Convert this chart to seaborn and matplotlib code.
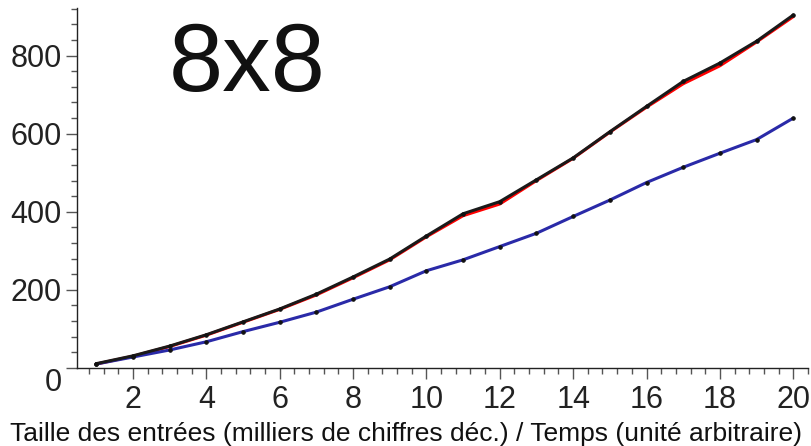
import matplotlib
matplotlib.use("Agg")
import matplotlib.pyplot as plt
from matplotlib.ticker import MultipleLocator
import pandas as pd
import seaborn as sns

# --------------------------
# Données
# --------------------------
taille = list(range(1, 21))
temps_rouge = [10, 30, 55, 84, 117, 150, 187, 231, 277, 336, 390, 420, 480, 537, 604, 668, 728, 774, 835, 900]
temps_noir = [11, 31, 56, 85, 118, 151, 189, 233, 279, 338, 395, 426, 482, 538, 605, 670, 734, 781, 837, 904]
temps_bleu = [10, 28, 46, 67, 93, 117, 143, 176, 208, 249, 277, 311, 345, 388, 430, 475, 514, 550, 585, 640]

titre = "8x8"
legende_x = "Taille des entrées (milliers de chiffres déc.) / Temps (unité arbitraire)"

df = pd.DataFrame({"taille": taille, "rouge": temps_rouge,
                   "noir": temps_noir, "bleu": temps_bleu})

sns.set_style("white")
plt.rcParams["font.family"] = ["Liberation Sans", "DejaVu Sans"]

fig = plt.figure(figsize=(8.12, 4.46), dpi=100)
ax = fig.add_axes([0.095, 0.175, 0.90, 0.807])

# Courbes
sns.lineplot(data=df, x="taille", y="rouge", color="#ff0000", linewidth=2.2, ax=ax)
sns.lineplot(data=df, x="taille", y="bleu", color="#2a2aa8", linewidth=2.2,
             marker="o", markersize=2.5, markerfacecolor="#111111",
             markeredgecolor="#111111", ax=ax)
sns.lineplot(data=df, x="taille", y="noir", color="#1a1a1a", linewidth=2.2,
             marker="o", markersize=2.5, markerfacecolor="#111111",
             markeredgecolor="#111111", ax=ax)

ax.set_xlim(0.48, 20.4)
ax.set_ylim(0, 922)
ax.set_xticks(range(2, 21, 2))
ax.set_yticks([0, 200, 400, 600, 800])
ax.xaxis.set_minor_locator(MultipleLocator(0.4))
ax.yaxis.set_minor_locator(MultipleLocator(40))

sns.despine(ax=ax)
for s in ["left", "bottom"]:
    ax.spines[s].set_color("#222222")
    ax.spines[s].set_linewidth(1.0)

ax.tick_params(which="major", direction="out", length=8, width=1, color="#555555",
               labelsize=22, labelcolor="#222222", pad=3)
ax.tick_params(which="minor", direction="out", length=4, width=1, color="#555555")
ax.tick_params(axis="x", which="major", pad=4)
ax.tick_params(left=True, bottom=True, which="both")

# le "0" est un peu plus bas, comme dans Maple
ax.yaxis.get_major_ticks()[0].label1.set_verticalalignment("top")

ax.set_xlabel("")
ax.set_ylabel("")
fig.text(0.5, 0.0, legende_x, ha="center", va="bottom", fontsize=19, color="#111111")
fig.text(0.305, 0.852, titre, ha="center", va="center", fontsize=70, color="#111111")

fig.savefig("out.png", dpi=100)
